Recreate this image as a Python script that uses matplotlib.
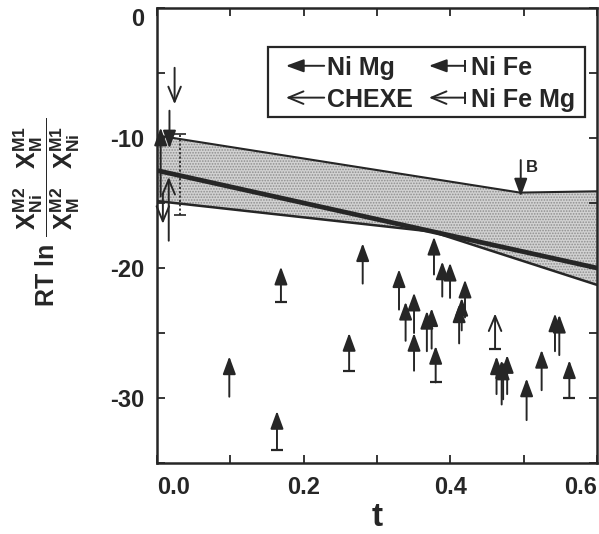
import numpy as np
import matplotlib
matplotlib.use("Agg")
import matplotlib.pyplot as plt
from matplotlib.patches import Rectangle
from matplotlib.ticker import MultipleLocator

plt.rcParams["font.family"] = ["Liberation Sans", "DejaVu Sans"]
plt.rcParams["font.weight"] = "bold"
plt.rcParams["axes.unicode_minus"] = False
plt.rcParams["mathtext.fontset"] = "custom"
plt.rcParams["mathtext.rm"] = "Liberation Sans:bold"
plt.rcParams["mathtext.it"] = "Liberation Sans:bold"
plt.rcParams["mathtext.bf"] = "Liberation Sans:bold"
plt.rcParams["mathtext.default"] = "rm"
plt.rcParams["hatch.color"] = "#8e8e8e"
plt.rcParams["hatch.linewidth"] = 0.8

INK = "#262626"

# band edges and the thick fit line (t, RT ln K)
UPPER_T = [0.0, 0.495, 0.6]
UPPER_V = [-9.8, -14.2, -14.1]
LOWER_T = [0.0, 0.375, 0.6]
LOWER_V = [-14.85, -17.2, -21.3]
FIT_T = [0.0, 0.6]
FIT_V = [-12.5, -20.0]

# arrows: t, tail value, tip value, kind
ARROW_T = [0.0986, 0.169, 0.1636, 0.262, 0.2805, 0.330, 0.339, 0.3505, 0.3505,
           0.368, 0.3745, 0.3777, 0.380, 0.389, 0.3996, 0.420, 0.4155, 0.412,
           0.461, 0.463, 0.470, 0.472, 0.4775, 0.504, 0.5245, 0.5427, 0.5486,
           0.5623,
           0.024, 0.017, 0.016, 0.005, 0.008]
ARROW_TAIL = [-29.9, -22.6, -34.0, -27.9, -21.2, -23.2, -25.6, -25.0, -27.9,
              -26.4, -26.2, -20.5, -28.8, -22.2, -22.3, -23.8, -24.8, -25.8,
              -26.2, -29.7, -30.5, -30.1, -29.7, -31.7, -29.4, -26.4, -26.7,
              -30.0,
              -4.6, -7.9, -17.9, -14.5, -14.3]
ARROW_TIP = [-26.8, -19.9, -31.0, -25.0, -18.1, -20.1, -22.6, -21.9, -25.0,
             -23.3, -23.1, -17.6, -26.0, -19.5, -19.6, -20.9, -22.3, -22.8,
             -23.5, -26.8, -27.1, -27.2, -26.7, -28.5, -26.3, -23.5, -23.6,
             -27.1,
             -7.4, -10.8, -13.0, -9.2, -16.6]
ARROW_KIND = ["NiMg", "NiFe", "NiFe", "NiFe", "NiMg", "NiMg", "NiMg", "NiMg", "NiMg",
              "NiMg", "NiMg", "NiMg", "NiFe", "NiMg", "NiMg", "NiMg", "NiMg", "NiMg",
              "NiFeMg", "NiMg", "NiMg", "NiMg", "NiMg", "NiMg", "NiMg", "NiMg", "NiMg",
              "NiFe",
              "CHEXE", "NiMg", "CHEXE", "NiMg", "CHEXE"]

# dotted error bar near t = 0
ERR_T = 0.031
ERR_LO, ERR_HI = -15.9, -9.7

# arrow marking point B
B_T, B_FROM, B_TO = 0.496, -11.7, -14.5

LEGEND_ROWS = [("NiMg", "Ni Mg"), ("NiFe", "Ni Fe"),
               ("CHEXE", "CHEXE"), ("NiFeMg", "Ni Fe Mg")]

XTICKS = [0.0, 0.2, 0.4, 0.6]
YTICKS = [-30, -20, -10, 0]

STYLE = {  # filled head?, bar at tail?
    "NiMg": (True, False),
    "NiFe": (True, True),
    "CHEXE": (False, False),
    "NiFeMg": (False, True),
}


def arrow_props(kind):
    filled, _ = STYLE[kind]
    if filled:
        style = "-|>,head_length=0.6,head_width=0.22"
    else:
        style = "->,head_length=0.6,head_width=0.25"
    return dict(arrowstyle=style, color=INK, lw=1.4, mutation_scale=18,
                shrinkA=0, shrinkB=0)


fig = plt.figure(figsize=(5.99, 5.34), dpi=100)
ax = fig.add_axes([157 / 599, 1 - 463 / 534, 440 / 599, 455 / 534])

# shaded band
grid = np.union1d(UPPER_T, LOWER_T)
ax.fill_between(grid, np.interp(grid, LOWER_T, LOWER_V),
                np.interp(grid, UPPER_T, UPPER_V),
                facecolor="#d2d2d2", hatch="......", edgecolor="none", lw=0,
                zorder=1)
ax.plot(UPPER_T, UPPER_V, color=INK, lw=1.5, zorder=3)
ax.plot(LOWER_T, LOWER_V, color=INK, lw=1.8, zorder=3)
ax.plot(FIT_T, FIT_V, color=INK, lw=3.4, zorder=3)

for t, tail, tip, kind in zip(ARROW_T, ARROW_TAIL, ARROW_TIP, ARROW_KIND):
    ax.annotate("", xy=(t, tip), xytext=(t, tail), arrowprops=arrow_props(kind),
                zorder=4)
    if STYLE[kind][1]:
        ax.plot([t], [tail], marker="_", ms=9, mew=1.6, color=INK, zorder=4)

ax.plot([ERR_T, ERR_T], [ERR_LO, ERR_HI], color=INK, lw=1.3, ls=(0, (1.2, 1.2)),
        zorder=4)
ax.plot([ERR_T, ERR_T], [ERR_LO, ERR_HI], ls="none", marker="_", ms=8, mew=1.2,
        color=INK, zorder=4)

ax.annotate("", xy=(B_T, B_TO), xytext=(B_T, B_FROM), arrowprops=arrow_props("NiMg"),
            zorder=4)
ax.text(B_T + 0.007, B_FROM - 0.6, "B", fontsize=12, color=INK, ha="left",
        va="center")

# legend box, drawn by hand so the arrow glyphs match the data marks
ax.add_patch(Rectangle((0.2523, 0.760), 0.7204, 0.155, transform=ax.transAxes,
                       fill=False, lw=1.6, ec=INK, zorder=5))
col_x = [(0.293, 0.380, 0.386), (0.618, 0.700, 0.7136)]
row_y = [(0.873, 0.853), (0.803, 0.783)]
for i, (kind, label) in enumerate(LEGEND_ROWS):
    (tip_x, tail_x, text_x), (ay, ty) = col_x[i % 2], row_y[i // 2]
    ax.annotate("", xy=(tip_x, ay), xytext=(tail_x, ay), xycoords="axes fraction",
                arrowprops=arrow_props(kind), zorder=5)
    if STYLE[kind][1]:
        ax.plot([tail_x], [ay], marker="|", ms=8, mew=1.4, color=INK,
                transform=ax.transAxes, zorder=5)
    ax.text(text_x, ty, label, transform=ax.transAxes, fontsize=18, color=INK,
            ha="left", va="baseline", zorder=5)

ax.set_xlim(0, 0.6)
ax.set_ylim(-35, 0)
ax.set_xticks(XTICKS, [f"{v:.1f}" for v in XTICKS])
ax.set_yticks(YTICKS, [f"{v:d}" for v in YTICKS])
ax.xaxis.set_minor_locator(MultipleLocator(0.1))
ax.yaxis.set_minor_locator(MultipleLocator(5))
ax.tick_params(which="both", direction="in", top=True, right=True,
               length=6, width=1.3, color=INK)
ax.tick_params(which="major", labelsize=17, labelcolor=INK, pad=9)
for s in ax.spines.values():
    s.set_linewidth(1.8)
    s.set_color(INK)

xl = ax.get_xticklabels()
xl[0].set_ha("left")
xl[-1].set_ha("right")
ax.get_yticklabels()[-1].set_va("top")

fig.text(377 / 599, 1 - 526 / 534, "t", fontsize=24, color=INK, ha="center",
         va="baseline")
ylabel = (r"$\mathrm{RT\ ln}\ \dfrac{\ X_{Ni}^{M2}\;\;\;X_{M}^{M1}\ }"
          r"{\ X_{M}^{M2}\;\;\;X_{Ni}^{M1}\ }$")
fig.text(47 / 599, 1 - 212 / 534, ylabel, fontsize=18, color=INK, rotation=90,
         ha="center", va="center")

fig.savefig("out.png", dpi=100)
